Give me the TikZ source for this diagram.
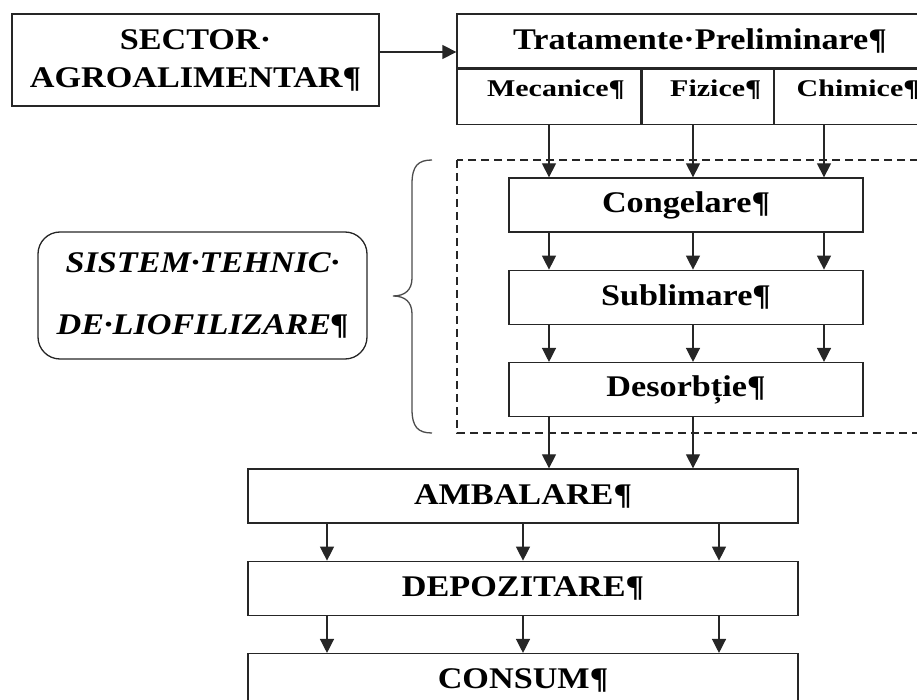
\documentclass[tikz,border=0pt]{standalone}
\usepackage{fontspec}
\setmainfont{Liberation Serif}
\newfontfamily\boxfont[FakeStretch=1.14]{Liberation Serif}
\newfontfamily\hdrfont[FakeStretch=1.25]{Liberation Serif}
\usetikzlibrary{arrows.meta,positioning}

\begin{document}
\begin{tikzpicture}[x=0.5pt,y=-0.5pt,node distance=18.5pt]
\tikzstyle{blk}=[rectangle,draw=black!85,line width=0.65pt,inner sep=0pt,font=\boxfont\fontsize{15}{19}\selectfont\bfseries]
\tikzstyle{stage}=[blk,minimum width=177pt,minimum height=27pt]
\tikzstyle{final}=[blk,minimum width=275pt,minimum height=27pt]
\tikzstyle{hdr}=[blk,inner ysep=2.75pt,minimum height=27.5pt,text height=10.75pt,text depth=11.25pt,font=\hdrfont\fontsize{12}{14}\selectfont\bfseries]
\tikzstyle{flow}=[draw=black!85,line width=0.65pt,-{Triangle[length=7pt,width=7pt]}]
\useasboundingbox (0,0) rectangle (917,700);

% intrare si tratamente
\node (sector) [blk,minimum width=183.5pt,minimum height=46pt,align=center] at (195.5,60) {SECTOR·\\AGROALIMENTAR¶};
\node (trat) [blk,minimum width=243pt,minimum height=27pt] at (700,41) {Tratamente·Preliminare¶};
\node (mec) [hdr,minimum width=92pt,below right=0pt and 0pt of trat.south west] {\hspace*{7pt}Mecanice¶};
\node (fiz) [hdr,minimum width=65.5pt,right=0pt of mec] {\hspace*{8pt}Fizice¶};
\node (chim) [hdr,minimum width=85.5pt,right=0pt of fiz] {Chimice¶\hspace*{2pt}};
\draw[flow] ([yshift=4pt]sector.east) -- ([yshift=4pt]sector.east -| trat.west);

% sistemul de liofilizare
\draw[black!85,line width=0.75pt,dash pattern=on 4pt off 2.5pt] (457,160) rectangle (980,433);
\node (cong) [stage] at (686,205) {Congelare¶};
\node (subl) [stage,below=of cong] {Sublimare¶};
\node (desb) [stage,below=of subl] {Desorbție¶};
\node (sist) [blk,rounded corners=11pt,minimum width=164.5pt,minimum height=63.5pt,align=center,font=\boxfont\fontsize{15}{31}\selectfont\bfseries\itshape] at (202.5,295.5) {SISTEM·TEHNIC·\\DE·LIOFILIZARE¶};
\draw[black!70,line width=0.65pt] (432,160) .. controls (418,160) and (412,166) .. (412,184) -- (412,278) .. controls (412,290) and (405,296) .. (393,296) .. controls (405,296) and (412,302) .. (412,314) -- (412,409) .. controls (412,427) and (418,433) .. (432,433);

% ambalare, depozitare, consum
\node (amb) [final] at (523,496) {AMBALARE¶};
\node (dep) [final,below=of amb] {DEPOZITARE¶};
\node (cons) [final,below=of dep] {CONSUM¶};

\coordinate (ca) at (549,0);
\coordinate (cb) at (693,0);
\coordinate (cc) at (824,0);
\coordinate (cd) at (327,0);
\coordinate (ce) at (523,0);
\coordinate (cf) at (719,0);
\foreach \c in {ca,cb,cc} {
  \draw[flow] (mec.south -| \c) -- (cong.north -| \c);
  \draw[flow] (cong.south -| \c) -- (subl.north -| \c);
  \draw[flow] (subl.south -| \c) -- (desb.north -| \c);
}
\foreach \c in {ca,cb}
  \draw[flow] (desb.south -| \c) -- (amb.north -| \c);
\foreach \c in {cd,ce,cf} {
  \draw[flow] (amb.south -| \c) -- (dep.north -| \c);
  \draw[flow] (dep.south -| \c) -- (cons.north -| \c);
}
\end{tikzpicture}
\end{document}
